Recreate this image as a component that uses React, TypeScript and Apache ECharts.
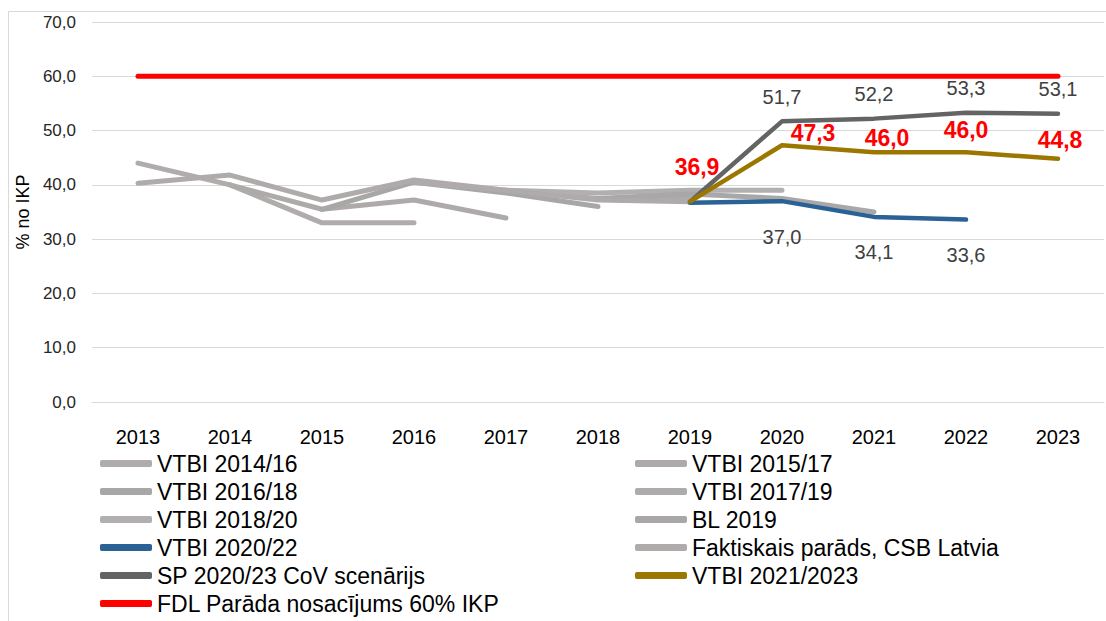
import React, { useEffect, useRef } from "react";
import * as echarts from "echarts";

const years = ["2013", "2014", "2015", "2016", "2017", "2018", "2019", "2020", "2021", "2022", "2023"];
const N = null;
const vtbi1416 = [44.0, 40.0, 33.0, 33.0, N, N, N, N, N, N, N];
const vtbi1517 = [N, 40.0, 35.5, 37.2, 33.9, N, N, N, N, N, N];
const vtbi1618 = [N, N, 35.5, 40.5, 38.5, 36.0, N, N, N, N, N];
const vtbi1719 = [N, N, N, 40.5, 39.0, 37.5, 37.5, N, N, N, N];
const vtbi1820 = [N, N, N, N, 39.0, 38.5, 39.0, 39.0, N, N, N];
const bl2019 = [N, N, N, N, N, 37.5, 38.3, 37.5, 35.0, N, N];
const vtbi2022 = [N, N, N, N, N, N, 36.7, 37.0, 34.1, 33.6, N];
const actual = [40.3, 41.8, 37.2, 40.9, 39.0, 37.2, 36.9, N, N, N, N];
const sp2023 = [N, N, N, N, N, N, 36.9, 51.7, 52.2, 53.3, 53.1];
const vtbi2123 = [N, N, N, N, N, N, 36.9, 47.3, 46.0, 46.0, 44.8];
const fdl = [60, 60, 60, 60, 60, 60, 60, 60, 60, 60, 60];

const names = {
  a: "VTBI 2014/16",
  b: "VTBI 2015/17",
  c: "VTBI 2016/18",
  d: "VTBI 2017/19",
  e: "VTBI 2018/20",
  f: "BL 2019",
  g: "VTBI 2020/22",
  h: "Faktiskais parāds, CSB Latvia",
  i: "SP 2020/23 CoV scenārijs",
  j: "VTBI 2021/2023",
  k: "FDL Parāda nosacījums 60% IKP",
};

// label offsets (styling) for the red series labels, in pixel units
const redLabelOffsets: Record<number, number[]> = {
  6: [7, -23],
  7: [31, 0],
  8: [13, -2],
  9: [0, -10],
  10: [2, -7],
};

const FONT = "'Liberation Sans', Arial, sans-serif";
const fmt = (v: number) => v.toFixed(1).replace(".", ",");

function line(name: string, data: any[], color: string, width: number, extra: any = {}) {
  return {
    name,
    type: "line",
    data,
    color,
    symbol: "circle",
    symbolSize: 1,
    showSymbol: true,
    itemStyle: { color },
    lineStyle: { color, width, cap: "round", join: "round" },
    emphasis: { disabled: true },
    connectNulls: false,
    ...extra,
  };
}

export default function App() {
  const ref = useRef<HTMLDivElement>(null);
  useEffect(() => {
    document.body.style.margin = "0";
    if (!ref.current) return;
    const chart = echarts.init(ref.current, undefined, { renderer: "svg" });
    const legendText = { fontFamily: FONT, fontSize: 23, color: "#000", lineHeight: 22 };
    const legendBase = {
      orient: "vertical",
      top: 452,
      height: 220,
      padding: 0,
      itemGap: 5,
      itemWidth: 52,
      itemHeight: 7,
      icon: "roundRect",
      textStyle: legendText,
    };
    const option: any = {
      animation: false,
      backgroundColor: "#fff",
      textStyle: { fontFamily: FONT },
      graphic: [
        {
          type: "rect",
          shape: { x: 8.5, y: 11.5, width: 1200, height: 700 },
          style: { fill: "none", stroke: "#d9d9d9", lineWidth: 1 },
          silent: true,
        },
      ],
      grid: { left: 92, right: 2, top: 22, bottom: 219, containLabel: false },
      legend: [
        { ...legendBase, left: 100, data: [names.a, names.c, names.e, names.g, names.i, names.k] },
        { ...legendBase, left: 635, data: [names.b, names.d, names.f, names.h, names.j] },
      ],
      xAxis: {
        type: "category",
        data: years,
        boundaryGap: true,
        axisTick: { show: false },
        axisLine: { show: true, lineStyle: { color: "#d9d9d9", width: 1 } },
        axisLabel: { color: "#000", fontSize: 20, margin: 25, fontFamily: FONT },
      },
      yAxis: {
        type: "value",
        min: 0,
        max: 70,
        interval: 10,
        name: "% no IKP",
        nameLocation: "middle",
        nameGap: 52,
        nameTextStyle: { color: "#000", fontSize: 18, fontFamily: FONT },
        axisLine: { show: false },
        axisTick: { show: false },
        splitLine: { lineStyle: { color: "#d9d9d9", width: 1 } },
        axisLabel: {
          color: "#262626",
          fontSize: 17,
          margin: 16,
          fontFamily: FONT,
          formatter: (v: number) => fmt(v),
        },
      },
      series: [
        line(names.a, vtbi1416, "#B0ACAB", 5),
        line(names.b, vtbi1517, "#AEAAAA", 5),
        line(names.c, vtbi1618, "#A7A7A7", 5),
        line(names.d, vtbi1719, "#ADABAB", 5),
        line(names.e, vtbi1820, "#B1AFAF", 5),
        line(names.f, bl2019, "#A9A7A7", 5),
        line(names.h, actual, "#AFABAB", 5),
        line(names.g, vtbi2022, "#2A6296", 4.5, {
          label: {
            show: true,
            position: "bottom",
            distance: 25,
            color: "#404040",
            fontSize: 20,
            fontFamily: FONT,
            formatter: (p: any) => (p.dataIndex >= 7 ? fmt(p.value) : ""),
          },
        }),
        line(names.i, sp2023, "#646464", 4.5, {
          label: {
            show: true,
            position: "top",
            distance: 14,
            color: "#404040",
            fontSize: 20,
            fontFamily: FONT,
            formatter: (p: any) => (p.dataIndex >= 7 ? fmt(p.value) : ""),
          },
        }),
        line(
          names.j,
          vtbi2123.map((v, i) =>
            v == null ? null : { value: v, label: { offset: redLabelOffsets[i] || [0, 0] } }
          ),
          "#9C7700",
          4.5,
          {
            label: {
              show: true,
              position: "top",
              distance: 0,
              color: "#FF0000",
              fontSize: 23,
              fontWeight: "bold",
              fontFamily: FONT,
              formatter: (p: any) => fmt(p.value),
            },
          }
        ),
        line(names.k, fdl, "#FF0000", 5),
      ],
    };
    chart.setOption(option);
    return () => chart.dispose();
  }, []);
  return <div ref={ref} style={{ width: 1106, height: 621 }} />;
}
